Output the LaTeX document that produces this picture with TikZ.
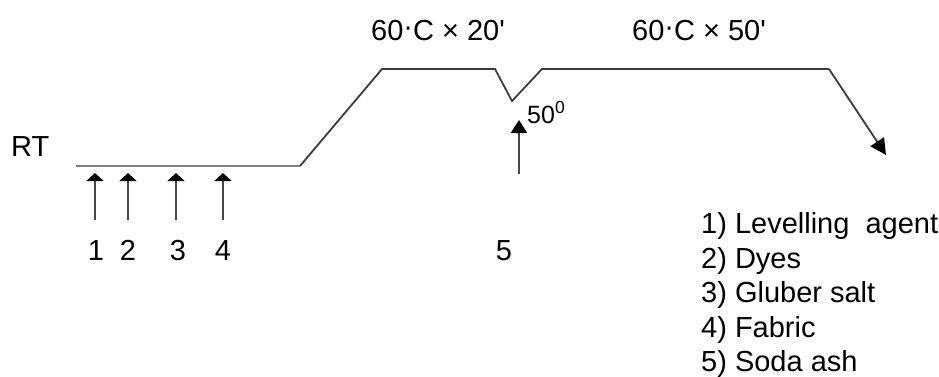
\documentclass[tikz,border=0pt]{standalone}
\usepackage{fontspec}
\setmainfont{Liberation Sans}[Ligatures=TeXOff]
\usetikzlibrary{positioning,arrows.meta}
\definecolor{profiledark}{RGB}{60,60,60}
\definecolor{profilegray}{RGB}{128,128,128}
\definecolor{shaftgray}{RGB}{70,70,70}

\newcommand{\updot}{\raisebox{0.12em}{·}}

\begin{document}
\begin{tikzpicture}[x=1pt,y=-1pt,
  >={Triangle[length=8pt,width=17pt]},
  rtline/.style={line width=2.8pt,profilegray},
  profile/.style={line width=1.8pt,profiledark},
  addarr/.style={->,line width=2.3pt,shaftgray},
  lab/.style={font=\fontsize{29}{35}\selectfont,inner sep=0pt},
  small lab/.style={font=\fontsize{25}{30}\selectfont,inner sep=0pt},
  legend lab/.style={font=\fontsize{29}{35}\selectfont,inner sep=0pt,anchor=base west}
]
\useasboundingbox (0,0) rectangle (939,376);

% Temperature profile
\coordinate (p0) at (76,166);
\coordinate (p1) at (300,166);
\coordinate (p2) at (382,69);
\coordinate (p3) at (495,69);
\coordinate (dip) at (512,101);
\coordinate (p4) at (542,69);
\coordinate (p5) at (829,69);
\coordinate (pend) at (886,155);
\draw[rtline] (p0) -- (p1);
\draw[profile,line join=miter] (p1) -- (p2) -- (p3) -- (dip) -- (p4) -- (p5);
\draw[profile,-{Triangle[length=16pt,width=16pt,color=black]}] (p5) -- (pend);

% Holding labels
\node[lab,anchor=base west] (rt) at (11,156) {RT};
\node[lab,anchor=base] (hold1) at (438,40) {60\updot C × 20'};
\node[lab,anchor=base] (hold2) at (699,40) {60\updot C × 50'};
\node[small lab,anchor=base west] (temp50) at (527,123) {50\textsuperscript{0}};

% Additions 1--4 at RT
\node[lab,anchor=base] (n1) at (96,260) {1};
\node[lab,anchor=base] (n2) at (128,260) {2};
\node[lab,anchor=base] (n3) at (178,260) {3};
\node[lab,anchor=base] (n4) at (223,260) {4};
\coordinate (a1) at (95,220);  \coordinate (b1) at (95,173);
\coordinate (a2) at (128,220); \coordinate (b2) at (128,173);
\coordinate (a3) at (176,220); \coordinate (b3) at (176,173);
\coordinate (a4) at (223,220); \coordinate (b4) at (223,173);
\foreach \i in {1,...,4}
  \draw[addarr,-{Triangle[length=8pt,width=17pt,color=black]}] (a\i) -- (b\i);

% Addition 5 at 50 degrees
\node[lab,anchor=base] (n5) at (504,260) {5};
\coordinate (a5) at (519,174);
\coordinate (b5) at (519,120);
\draw[addarr,-{Triangle[length=13pt,width=16pt,color=black]}] (a5) -- (b5);

% Key
\node[legend lab] (k1) at (701,233) {1) Levelling~~agent};
\node[legend lab] (k2) at (701,268) {2) Dyes};
\node[legend lab] (k3) at (701,302) {3) Gluber salt};
\node[legend lab] (k4) at (701,337) {4) Fabric};
\node[legend lab] (k5) at (701,371) {5) Soda ash};

\end{tikzpicture}
\end{document}
